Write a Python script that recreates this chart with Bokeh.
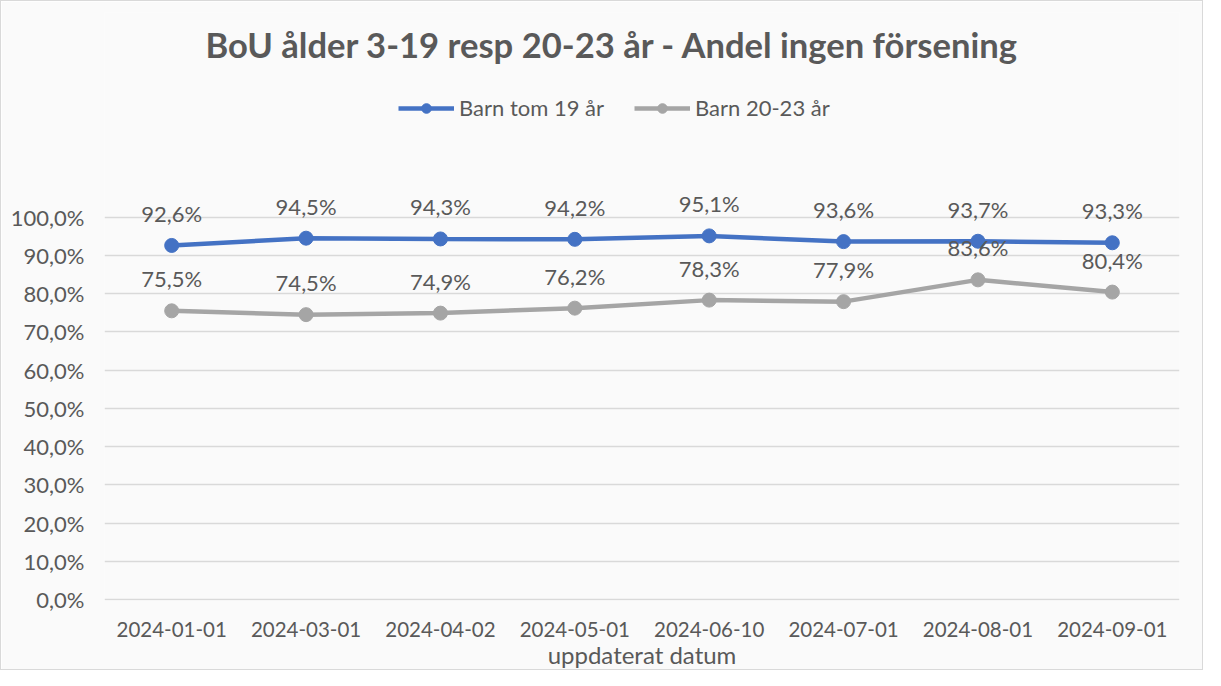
from bokeh.plotting import figure
from bokeh.models import Range1d, FixedTicker, Legend, LegendItem, Label, ColumnDataSource
from bokeh.embed import file_html
from bokeh.resources import INLINE
from bokeh.core.properties import value

# ---- data ----
dates = ["2024-01-01", "2024-03-01", "2024-04-02", "2024-05-01",
         "2024-06-10", "2024-07-01", "2024-08-01", "2024-09-01"]
barn_tom_19 = [92.6, 94.5, 94.3, 94.2, 95.1, 93.6, 93.7, 93.3]
barn_20_23 = [75.5, 74.5, 74.9, 76.2, 78.3, 77.9, 83.6, 80.4]
series_names = ["Barn tom 19 år", "Barn 20-23 år"]
y_ticks = [0, 10, 20, 30, 40, 50, 60, 70, 80, 90, 100]
y_tick_labels = ["0,0%", "10,0%", "20,0%", "30,0%", "40,0%", "50,0%",
                 "60,0%", "70,0%", "80,0%", "90,0%", "100,0%"]
title_text = "BoU ålder 3-19 resp 20-23 år - Andel ingen försening"
x_axis_title = "uppdaterat datum"

# ---- styling / layout ----
FONT = "Lato"
TXT = "#595959"
BLUE = "#4472C4"
GRAY = "#A5A5A5"
BG = "#FAFAFA"

W, H = 1203, 670
OFF = 9                 # page -> figure px offset (margin + border)
FL, FR = 112 - OFF, 1187 - OFF   # frame left/right (figure px)
FT, FB = 20 - OFF, 609 - OFF     # frame top/bottom (figure px)
Y0_PX, Y100_PX = 608 - OFF, 225 - OFF
ppu = (Y0_PX - Y100_PX) / 100.0
y_start = -(FB - Y0_PX) / ppu
y_end = 100 + (Y100_PX - FT) / ppu
x_start, x_end = -0.5, len(dates) - 0.5
ppx = (FR - FL) / (x_end - x_start)

def dx(page_px):
    return x_start + (page_px - OFF - FL) / ppx

def dy(page_py):
    return y_end - (page_py - OFF - FT) / ppu

p = figure(width=W, height=H, output_backend="svg", toolbar_location=None,
           x_range=Range1d(x_start, x_end), y_range=Range1d(y_start, y_end),
           min_border_left=FL, min_border_right=W - FR,
           min_border_top=FT, min_border_bottom=H - FB,
           background_fill_color=BG, border_fill_color=BG,
           styles={"border": "1px solid #D9D9D9"})
p.outline_line_color = None

xs = list(range(len(dates)))
src = ColumnDataSource(dict(
    x=xs, a=barn_tom_19, b=barn_20_23,
    la=[f"{v:.1f}%".replace(".", ",") for v in barn_tom_19],
    lb=[f"{v:.1f}%".replace(".", ",") for v in barn_20_23],
))

# axes
p.xaxis.ticker = FixedTicker(ticks=xs)
p.xaxis.major_label_overrides = {i: d for i, d in enumerate(dates)}
p.yaxis.ticker = FixedTicker(ticks=y_ticks)
p.yaxis.major_label_overrides = {t: l for t, l in zip(y_ticks, y_tick_labels)}
for ax in (p.xaxis[0], p.yaxis[0]):
    ax.axis_line_color = None
    ax.major_tick_line_color = None
    ax.minor_tick_line_color = None
    ax.major_tick_out = 0
    ax.major_tick_in = 0
    ax.major_label_text_font = FONT
    ax.major_label_text_color = TXT
p.xaxis.major_label_text_font_size = "20.5px"
p.yaxis.major_label_text_font_size = "22px"
p.xaxis.major_label_standoff = 21
p.yaxis.major_label_standoff = 20
p.xaxis.major_label_text_line_height = 1.0
p.xaxis.axis_label = x_axis_title
p.xaxis.axis_label_text_font = FONT
p.xaxis.axis_label_text_font_size = "24px"
p.xaxis.axis_label_text_font_style = "normal"
p.xaxis.axis_label_text_color = TXT
p.xaxis.axis_label_text_line_height = 1.0
p.xaxis.axis_label_standoff = 0

p.xgrid.grid_line_color = None
p.ygrid.ticker = FixedTicker(ticks=y_ticks)
p.ygrid.grid_line_color = "#D9D9D9"
p.ygrid.grid_line_width = 1.3

# series
l1 = p.line("x", "a", source=src, line_color=BLUE, line_width=4.5)
c1 = p.scatter("x", "a", source=src, size=14, fill_color=BLUE, line_color=BLUE)
l2 = p.line("x", "b", source=src, line_color=GRAY, line_width=4.5)
c2 = p.scatter("x", "b", source=src, size=14, fill_color=GRAY, line_color=GRAY)

for col, ycol in (("la", "a"), ("lb", "b")):
    p.text("x", ycol, text=col, source=src, text_align="center",
           text_baseline="middle", y_offset=-32, text_font=value(FONT),
           text_font_size="22px", text_color=TXT)

# title
p.add_layout(Label(x=dx(620), y=dy(52), text=title_text, text_align="center",
                   text_baseline="middle", text_font=FONT, text_font_size="34.6px",
                   text_font_style="bold", text_color=TXT))

# legend
legend = Legend(items=[LegendItem(label=series_names[0], renderers=[l1, c1]),
                       LegendItem(label=series_names[1], renderers=[l2, c2])],
                orientation="horizontal", location=(397 - FL, FB - 121),
                glyph_width=56, glyph_height=24, label_height=24, label_standoff=5,
                spacing=30, padding=0, margin=0,
                border_line_color=None, background_fill_alpha=0,
                label_text_font=FONT, label_text_font_size="22px",
                label_text_color=TXT)
p.add_layout(legend)

open("out.html", "w").write(file_html(p, INLINE))
